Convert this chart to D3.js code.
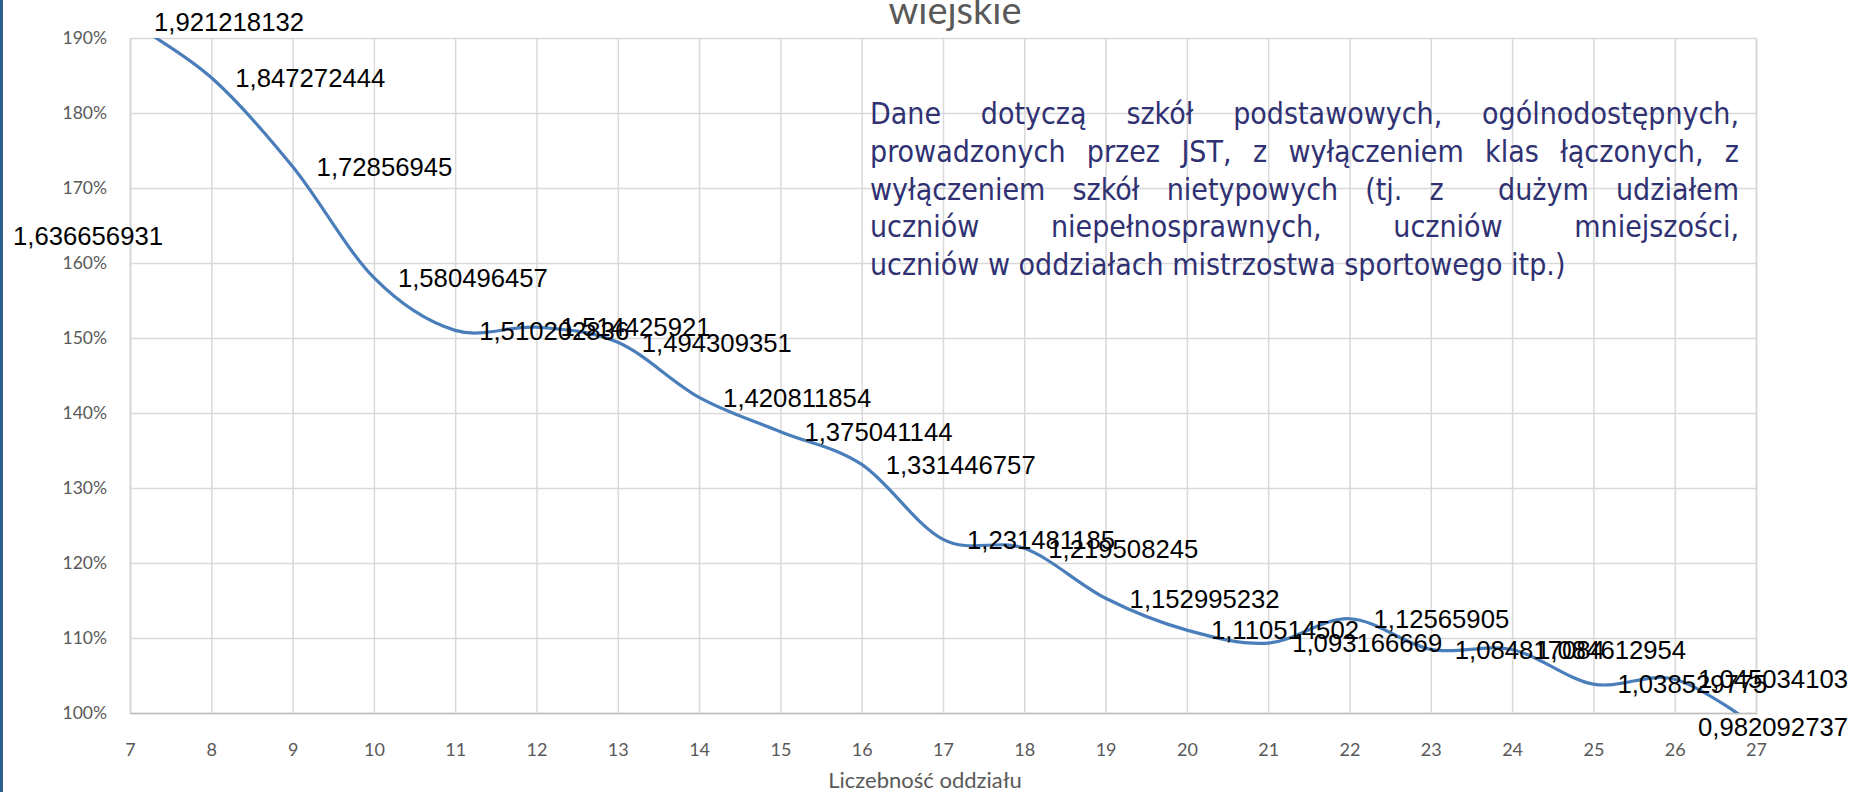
<!DOCTYPE html>
<html>
<head>
<meta charset="utf-8">
<script src="https://cdn.jsdelivr.net/npm/d3@7"></script>
<style>
  body { margin: 0; background: #fff; }
  svg { display: block; }
</style>
</head>
<body>
<svg width="1851" height="792"></svg>
<script>
// liczebność oddziału (class size)
var classSizes = [6, 7, 8, 9, 10, 11, 12, 13, 14, 15, 16, 17, 18, 19, 20, 21, 22, 23, 24, 25, 26, 27];
// wskaźnik (ratio)
var ratios = [1.636656931, 1.921218132, 1.847272444, 1.72856945, 1.580496457, 1.510202836,
  1.514425921, 1.494309351, 1.420811854, 1.375041144, 1.331446757, 1.231481185,
  1.219508245, 1.152995232, 1.110514502, 1.093166669, 1.12565905, 1.084817084,
  1.084612954, 1.038529775, 1.045034103, 0.982092737];
var xTicks = d3.range(7, 28);
var yTicks = [1.0, 1.1, 1.2, 1.3, 1.4, 1.5, 1.6, 1.7, 1.8, 1.9];
var titleText = "wiejskie";
var axisTitle = "Liczebność oddziału";
var noteLines = [
  "Dane dotyczą szkół podstawowych, ogólnodostępnych,",
  "prowadzonych przez JST, z wyłączeniem klas łączonych, z",
  "wyłączeniem szkół nietypowych (tj. z  dużym udziałem",
  "uczniów niepełnosprawnych, uczniów mniejszości,",
  "uczniów w oddziałach mistrzostwa sportowego itp.)"
];

var data = classSizes.map((c, i) => ({x: c, v: ratios[i]}));

var svg = d3.select("svg"),
    W = +svg.attr("width"),
    H = +svg.attr("height"),
    margin = {top: 38, right: 95, bottom: 79, left: 130},
    width = W - margin.left - margin.right,
    height = H - margin.top - margin.bottom;

var x = d3.scaleLinear().domain([7, 27]).range([0, width]);
var y = d3.scaleLinear().domain([1.0, 1.9]).range([height, 0]);

// blue edge on the left
svg.append("rect").attr("x", 0).attr("y", 0).attr("width", 3).attr("height", H).attr("fill", "#2e5f8f");

var g = svg.append("g").attr("transform", "translate(" + margin.left + "," + margin.top + ")");

// y grid + labels
var gy = g.append("g")
    .call(d3.axisLeft(y).tickValues(yTicks).tickFormat(d3.format(".0%")).tickSize(-width).tickPadding(23));
gy.select(".domain").remove();
gy.selectAll("line").attr("stroke", "#d9d9d9").attr("stroke-width", 1.5);
gy.selectAll("text").attr("fill", "#595959").style("font", "17.5px Lato");

// x grid + labels
var gx = g.append("g")
    .attr("transform", "translate(0," + height + ")")
    .call(d3.axisBottom(x).tickValues(xTicks).tickFormat(d3.format("d")).tickSize(-height).tickPadding(30));
gx.select(".domain").attr("stroke", "#bfbfbf").attr("stroke-width", 1.5);
gx.selectAll("line").attr("stroke", "#d9d9d9").attr("stroke-width", 1.5);
gx.selectAll("text").attr("fill", "#595959").style("font", "18px Lato");

// clip for the line
g.append("clipPath").attr("id", "plot")
  .append("rect").attr("width", width).attr("height", height);

var line = d3.line()
    .x(d => x(d.x))
    .y(d => y(d.v))
    .curve(d3.curveCardinal.tension(0));

g.append("path")
    .datum(data.filter(d => d.x >= 7))
    .attr("clip-path", "url(#plot)")
    .attr("fill", "none")
    .attr("stroke", "#4a7ebb")
    .attr("stroke-width", 3.2)
    .attr("d", line);

// data labels, right of each point
var labels = g.selectAll(".lab").data(data).enter().append("text")
    .attr("class", "lab")
    .attr("y", d => y(d.v))
    .attr("dy", "0.36em")
    .style("font", "25.7px 'Liberation Sans', Arial")
    .attr("fill", "#000")
    .text(d => String(d.v).replace(".", ","));

labels.each(function(d) {
  var t = d3.select(this), w = this.getComputedTextLength();
  var lx = x(d.x) + 24;
  if (d.x < 7) lx = x(7) + 33 - w;
  if (margin.left + lx + w > W - 3) lx = W - 3 - margin.left - w;
  t.attr("x", lx);
});

// title (cut at the top)
svg.append("text")
    .attr("x", margin.left + width / 2 + 12)
    .attr("y", 24)
    .attr("text-anchor", "middle")
    .attr("fill", "#595959")
    .style("font", "38px Lato")
    .text(titleText);

// axis title
svg.append("text")
    .attr("x", margin.left + width / 2 - 18)
    .attr("y", 788)
    .attr("text-anchor", "middle")
    .attr("fill", "#595959")
    .style("font", "22px Lato")
    .text(axisTitle);

// justified note
var noteLeft = 870, noteRight = 1739, noteTop = 124, noteStep = 37.8;
var note = svg.append("g").attr("fill", "#2f3172").style("font", "30px 'DejaVu Sans Condensed', 'DejaVu Sans'");
noteLines.forEach(function(ln, i) {
  var words = ln.split(" ");
  var row = note.append("g");
  var ws = words.map(function(wd) {
    var t = row.append("text").attr("y", noteTop + i * noteStep).text(wd);
    return {t: t, w: wd.length ? t.node().getComputedTextLength() : 0};
  });
  var total = d3.sum(ws, d => d.w);
  var sp = row.append("text").text("a a");
  var sp2 = row.append("text").text("aa");
  var space = sp.node().getComputedTextLength() - sp2.node().getComputedTextLength();
  sp.remove(); sp2.remove();
  var gap = space;
  if (i < noteLines.length - 1) {
    gap = (noteRight - noteLeft - total) / (words.length - 1);
  }
  var cx = noteLeft;
  ws.forEach(function(d) {
    d.t.attr("x", cx);
    cx += d.w + gap;
  });
});
</script>
</body>
</html>
